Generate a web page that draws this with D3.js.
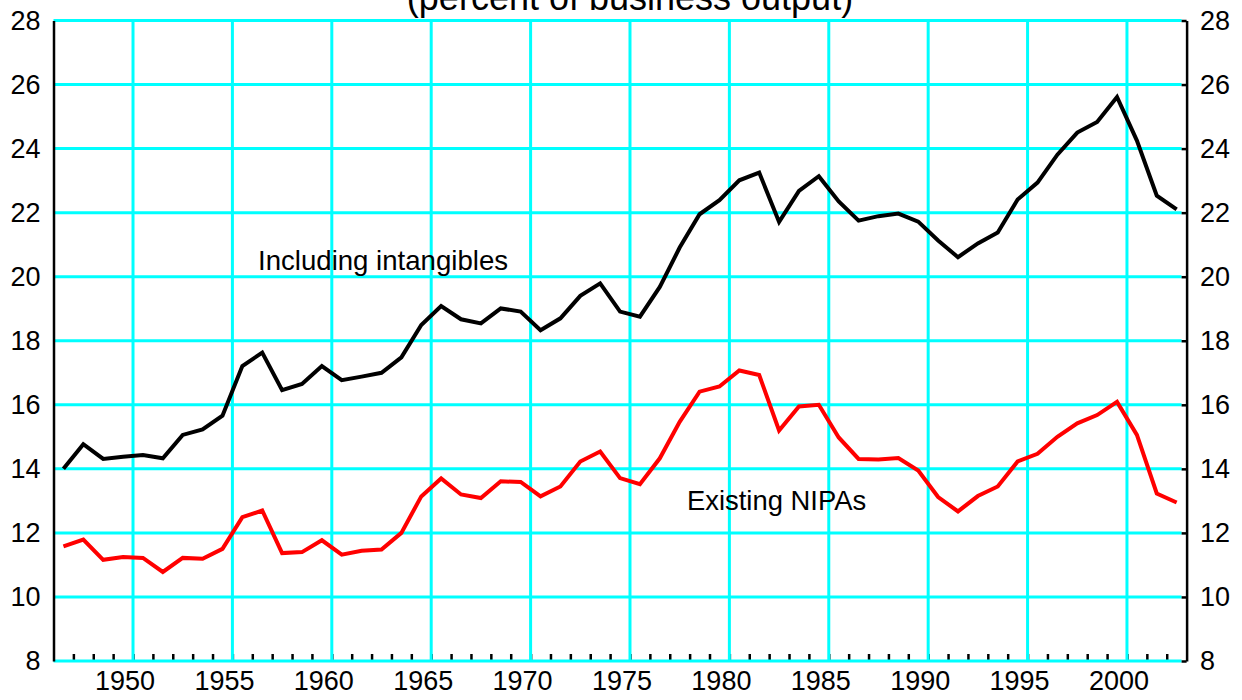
<!DOCTYPE html>
<html>
<head>
<meta charset="utf-8">
<script src="https://cdn.jsdelivr.net/npm/d3@7"></script>
<style>
  html, body { margin: 0; padding: 0; background: #fff; }
  svg { display: block; font-family: "Liberation Sans", Arial, sans-serif; }
</style>
</head>
<body>
<svg id="chart" width="1242" height="700"></svg>
<script>
// ---- data ----
const years = d3.range(1947, 2004);
const includingIntangibles = [
  14.00, 14.77, 14.31, 14.38, 14.43, 14.33, 15.06, 15.23, 15.66, 17.21,
  17.63, 16.46, 16.65, 17.21, 16.77, 16.88, 17.00, 17.48, 18.49, 19.08,
  18.67, 18.54, 19.01, 18.91, 18.33, 18.70, 19.40, 19.79, 18.91, 18.75,
  19.68, 20.91, 21.95, 22.39, 23.01, 23.25, 21.71, 22.68, 23.14, 22.35,
  21.75, 21.89, 21.97, 21.72, 21.13, 20.61, 21.04, 21.38, 22.41, 22.94,
  23.81, 24.50, 24.83, 25.61, 24.25, 22.53, 22.10
];
const existingNIPAs = [
  11.58, 11.79, 11.16, 11.25, 11.22, 10.78, 11.22, 11.19, 11.50, 12.49,
  12.70, 11.37, 11.40, 11.77, 11.32, 11.44, 11.48, 12.00, 13.14, 13.70,
  13.20, 13.09, 13.61, 13.59, 13.14, 13.45, 14.23, 14.54, 13.71, 13.52,
  14.33, 15.47, 16.41, 16.57, 17.07, 16.93, 15.20, 15.95, 16.00, 14.98,
  14.31, 14.29, 14.34, 13.95, 13.12, 12.67, 13.15, 13.45, 14.23, 14.47,
  15.00, 15.42, 15.68, 16.09, 15.06, 13.23, 12.95
];
const yTicks = [8, 10, 12, 14, 16, 18, 20, 22, 24, 26, 28];
const xLabelYears = [1950, 1955, 1960, 1965, 1970, 1975, 1980, 1985, 1990, 1995, 2000];
const xMinorYears = d3.range(1947, 2003);
const titleText = "(percent of business output)";
const seriesLabels = ["Including intangibles", "Existing NIPAs"];

// ---- layout ----
const svg = d3.select("#chart");
const x = d3.scaleLinear().domain([1946, 2003]).range([53.5, 1186.6]);
const y = d3.scaleLinear().domain([8, 28]).range([661, 20.5]);
const plotLeft = x.range()[0], plotRight = x.range()[1];
const plotTop = y.range()[1], plotBottom = y.range()[0];
const FS = 27;

// minor year ticks (under gridlines)
const minorAxis = d3.axisBottom(x).tickValues(xMinorYears).tickSize(7).tickSizeOuter(0).tickFormat("");
const gMinor = svg.append("g").attr("transform", `translate(0,${plotBottom - 7})`).call(minorAxis);
gMinor.select(".domain").remove();
gMinor.selectAll(".tick line").attr("stroke", "#000").attr("stroke-width", 2.5);

// gridlines
svg.append("g").selectAll("line").data(yTicks).join("line")
  .attr("x1", plotLeft).attr("x2", plotRight - 5)
  .attr("y1", d => y(d)).attr("y2", d => y(d))
  .attr("stroke", "#00FFFF").attr("stroke-width", 3);
svg.append("g").selectAll("line").data(xLabelYears).join("line")
  .attr("x1", d => x(d)).attr("x2", d => x(d))
  .attr("y1", plotTop).attr("y2", plotBottom)
  .attr("stroke", "#00FFFF").attr("stroke-width", 3);

// left axis
const gLeft = svg.append("g").attr("transform", `translate(${plotLeft},0)`)
  .call(d3.axisLeft(y).tickValues(yTicks).tickSize(0).tickPadding(13).tickFormat(d3.format("d")));
gLeft.select(".domain").attr("stroke", "#000").attr("stroke-width", 2.5);
gLeft.selectAll("text").attr("font-size", FS).attr("fill", "#000");
gLeft.attr("font-family", null).attr("font-size", null);

// right axis
const gRight = svg.append("g").attr("transform", `translate(${plotRight},0)`)
  .call(d3.axisRight(y).tickValues(yTicks).tickSizeInner(-5).tickSizeOuter(0).tickPadding(13.4).tickFormat(d3.format("d")));
gRight.select(".domain").attr("stroke", "#000").attr("stroke-width", 2.5);
gRight.selectAll(".tick line").attr("stroke", "#000").attr("stroke-width", 2.5);
gRight.selectAll("text").attr("font-size", FS).attr("fill", "#000");
gRight.attr("font-family", null).attr("font-size", null);

// bottom labels
const gBottom = svg.append("g").attr("transform", `translate(-8.5,${plotBottom})`)
  .call(d3.axisBottom(x).tickValues(xLabelYears).tickSize(0).tickPadding(10).tickFormat(d3.format("d")));
gBottom.select(".domain").remove();
gBottom.selectAll("text").attr("font-size", FS).attr("fill", "#000")
  .attr("dy", null).attr("y", 29);
gBottom.attr("font-family", null).attr("font-size", null);

// lines
const line = d3.line().x((d, i) => x(years[i] - 0.5)).y(d => y(d));
svg.append("path").datum(existingNIPAs).attr("d", line)
  .attr("fill", "none").attr("stroke", "#FF0000").attr("stroke-width", 4).attr("stroke-linejoin", "miter");
svg.append("path").datum(includingIntangibles).attr("d", line)
  .attr("fill", "none").attr("stroke", "#000").attr("stroke-width", 4).attr("stroke-linejoin", "miter");

// labels
svg.append("text").attr("x", 258).attr("y", 269.5).attr("font-size", 27.6).text(seriesLabels[0]);
svg.append("text").attr("x", 687).attr("y", 509.5).attr("font-size", 27.4).text(seriesLabels[1]);

// title (partly clipped at top, as in the reference)
svg.append("text").attr("x", 630).attr("y", 9.5).attr("text-anchor", "middle")
  .attr("font-size", 36).text(titleText);
</script>
</body>
</html>
